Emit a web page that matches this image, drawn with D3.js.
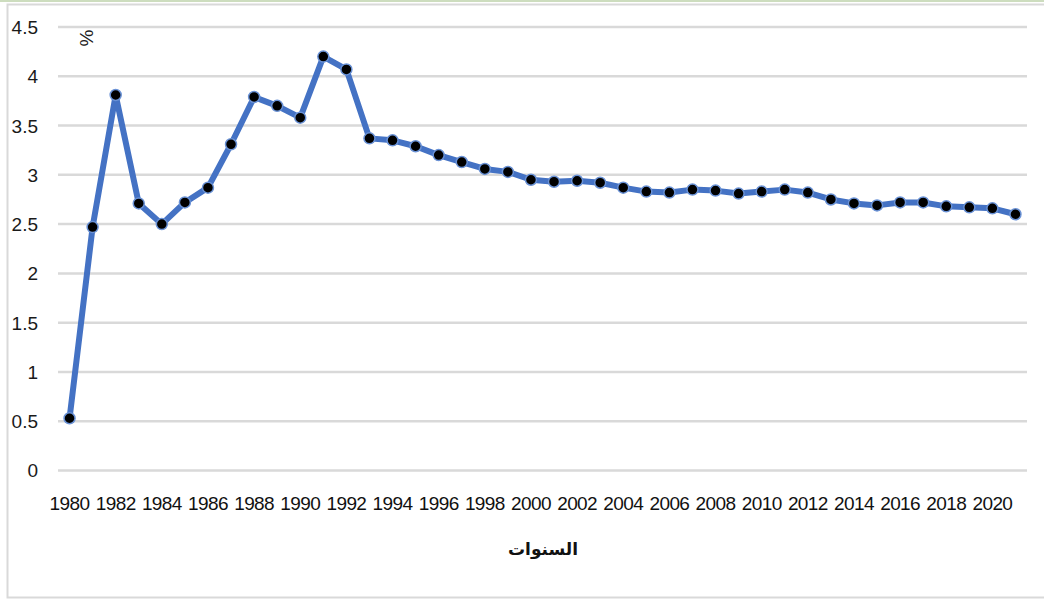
<!DOCTYPE html>
<html><head><meta charset="utf-8">
<script src="https://cdn.jsdelivr.net/npm/d3@7"></script>
<style>
html,body{margin:0;padding:0;background:#fff;}
svg{display:block;}
</style></head>
<body>
<svg id="chart" width="1044" height="602"></svg>
<script>
const years = [1980,1981,1982,1983,1984,1985,1986,1987,1988,1989,1990,1991,1992,1993,1994,1995,1996,1997,1998,1999,2000,2001,2002,2003,2004,2005,2006,2007,2008,2009,2010,2011,2012,2013,2014,2015,2016,2017,2018,2019,2020,2021];
const values = [0.53,2.47,3.81,2.71,2.50,2.72,2.87,3.31,3.79,3.70,3.58,4.20,4.07,3.37,3.35,3.29,3.20,3.13,3.06,3.03,2.95,2.93,2.94,2.92,2.87,2.83,2.82,2.85,2.84,2.81,2.83,2.85,2.82,2.75,2.71,2.69,2.72,2.72,2.68,2.67,2.66,2.60];
const yTicks = [0,0.5,1,1.5,2,2.5,3,3.5,4,4.5];
const yUnit = "%";
const xTitle = "السنوات";

const svg = d3.select("#chart");
const plotLeft = 58, plotRight = 1027, plotTop = 27, plotBottom = 470.5;

// chart border
svg.append("line").attr("x1",0).attr("x2",1044).attr("y1",1).attr("y2",1).attr("stroke","#9bbb7f").attr("stroke-width",1);
svg.append("rect").attr("x",7.5).attr("y",4.5).attr("width",1060).attr("height",593).attr("fill","none").attr("stroke","#d9d9d9").attr("stroke-width",2);

const x = d3.scaleBand().domain(years).range([plotLeft,plotRight]);
const y = d3.scaleLinear().domain([0,4.5]).range([plotBottom,plotTop]);

// gridlines
svg.append("g").selectAll("line").data(yTicks).join("line")
  .attr("x1",plotLeft).attr("x2",plotRight)
  .attr("y1",d=>y(d)).attr("y2",d=>y(d))
  .attr("stroke","#d9d9d9").attr("stroke-width",2.5);

// y axis labels
const yAxis = d3.axisLeft(y).tickValues(yTicks).tickSize(0).tickPadding(0).tickFormat(d3.format(""));
const gy = svg.append("g").attr("transform",`translate(38,0)`).call(yAxis);
gy.select(".domain").remove();
gy.selectAll("text").attr("font-family","Liberation Sans").attr("font-size",19).attr("fill","#1a1a1a").attr("text-anchor","end").attr("dy","0.34em");

// x axis labels
const xAxis = d3.axisBottom(x).tickValues(years.filter((d,i)=>i%2===0)).tickSize(0).tickPadding(0);
const gx = svg.append("g").attr("transform",`translate(0,${plotBottom+26})`).call(xAxis);
gx.select(".domain").remove();
gx.selectAll("text").attr("font-family","Liberation Sans").attr("font-size",19).attr("fill","#111").attr("dy","0.71em").attr("letter-spacing","-0.6px");

// line
const line = d3.line().x((d,i)=>x(years[i])+x.bandwidth()/2).y(d=>y(d));
svg.append("path").datum(values).attr("d",line).attr("fill","none").attr("stroke","#4472c4").attr("stroke-width",6).attr("stroke-linejoin","round");

// markers
svg.append("g").selectAll("circle").data(values).join("circle")
  .attr("cx",(d,i)=>x(years[i])+x.bandwidth()/2).attr("cy",d=>y(d)).attr("r",5.5)
  .attr("fill","#000").attr("stroke","#6a92d6").attr("stroke-width",1.5);

// unit label
svg.append("text").attr("transform","translate(86,38) rotate(-90)")
  .attr("text-anchor","middle").attr("dy","0.35em")
  .attr("font-family","Liberation Sans").attr("font-size",19).attr("fill","#222").text(yUnit);

// x title
svg.append("text").attr("x",543).attr("y",555).attr("text-anchor","middle")
  .attr("font-family","DejaVu Sans").attr("font-weight","bold").attr("font-size",17).attr("fill","#111")
  .attr("direction","rtl").text(xTitle);
</script>
</body></html>
